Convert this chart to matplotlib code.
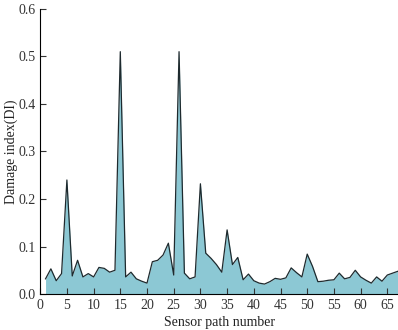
import numpy as np
import matplotlib
matplotlib.use('Agg')
import matplotlib.pyplot as plt

# damage index for each sensor path
paths = list(range(1, 68))
di = [0.032, 0.053, 0.028, 0.043, 0.240, 0.038, 0.071, 0.036, 0.043, 0.036,
      0.056, 0.054, 0.046, 0.050, 0.510, 0.036, 0.046, 0.032, 0.027, 0.023,
      0.068, 0.071, 0.082, 0.107, 0.040, 0.510, 0.044, 0.032, 0.036, 0.232,
      0.086, 0.075, 0.062, 0.046, 0.135, 0.062, 0.077, 0.030, 0.042, 0.028,
      0.023, 0.021, 0.026, 0.033, 0.031, 0.034, 0.055, 0.045, 0.036, 0.084,
      0.058, 0.026, 0.027, 0.029, 0.030, 0.044, 0.032, 0.035, 0.050, 0.036,
      0.029, 0.023, 0.036, 0.027, 0.040, 0.044, 0.048]
xticks = list(range(0, 70, 5))
yticks = [0.0, 0.1, 0.2, 0.3, 0.4, 0.5, 0.6]

plt.rcParams['font.family'] = ['Liberation Serif', 'DejaVu Serif']
plt.rcParams['font.size'] = 10

fig = plt.figure(figsize=(3.98, 3.30), dpi=100)
ax = fig.add_axes([0.101, 0.109, 0.899, 0.864])

ax.fill_between(paths, di, 0, color='#8cc8d4', lw=0)
ax.plot(paths, di, color='#1e2a2e', lw=0.9)

ax.set_xlim(0, 67)
ax.set_ylim(0, 0.6)
ax.set_xticks(xticks)
ax.set_yticks(yticks)
ax.set_yticklabels(['%.1f' % v for v in yticks])
ax.tick_params(direction='in', length=4, width=0.8, colors='#333333', labelcolor='#333333')
ax.spines['top'].set_visible(False)
ax.spines['right'].set_visible(False)
ax.set_xlabel('Sensor path number', fontsize=10, labelpad=3, color='#222222')
ax.set_ylabel('Damage index(DI)', fontsize=10, color='#222222')
ax.yaxis.set_label_coords(-0.062, 0.5)

fig.savefig('out.png', dpi=100)
